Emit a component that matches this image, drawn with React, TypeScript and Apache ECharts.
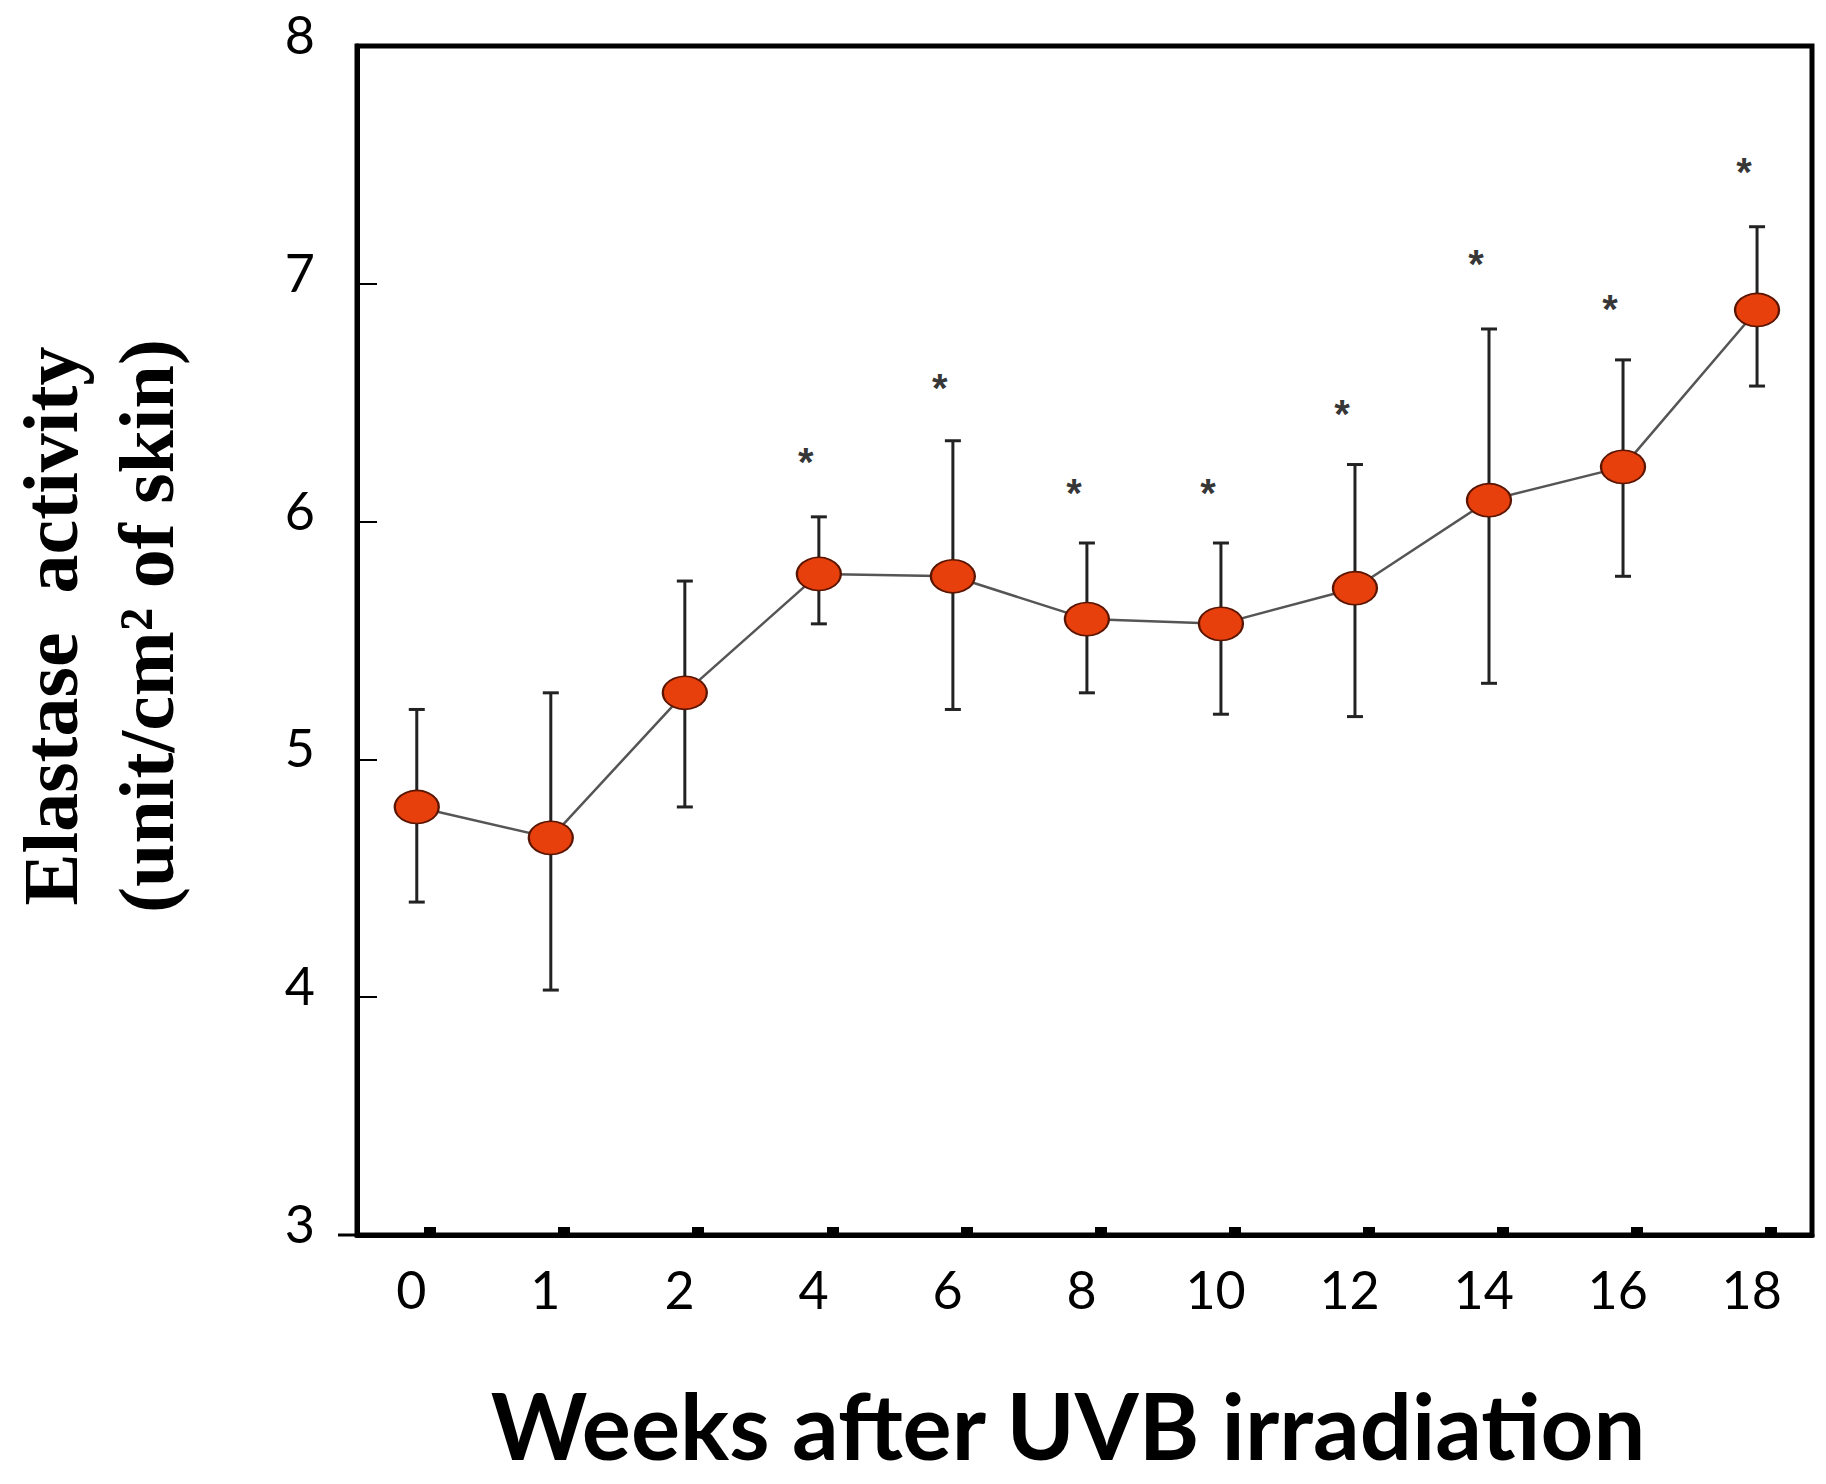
import React, { useEffect, useRef } from "react";
import * as echarts from "echarts";

// Weeks after UVB irradiation (category labels)
const weeks = ["0", "1", "2", "4", "6", "8", "10", "12", "14", "16", "18"];
// Elastase activity (mean) and error-bar ends
const means = [4.8, 4.67, 5.28, 5.78, 5.77, 5.59, 5.57, 5.72, 6.09, 6.23, 6.89];
const upper = [5.21, 5.28, 5.75, 6.02, 6.34, 5.91, 5.91, 6.24, 6.81, 6.68, 7.24];
const lower = [4.4, 4.03, 4.8, 5.57, 5.21, 5.28, 5.19, 5.18, 5.32, 5.77, 6.57];
// significance asterisk heights (null = none)
const stars: (number | null)[] = [null, null, null, 6.29, 6.6, 6.16, 6.16, 6.49, 7.12, 6.93, 7.51];
// y-axis tick values
const yTicks = [3, 4, 5, 6, 7, 8];

const idx = weeks.map((_, i) => i);

export default function App() {
  const ref = useRef<HTMLDivElement>(null);
  useEffect(() => {
    document.body.style.margin = "0";
    if (!ref.current) return;
    const chart = echarts.init(ref.current, undefined, { renderer: "svg" });
    const option: any = {
      animation: false,
      backgroundColor: "#ffffff",
      grid: {
        left: 357,
        right: 14,
        top: 46,
        bottom: 249,
        show: true,
        borderColor: "#000",
        borderWidth: 5,
        backgroundColor: "transparent",
      },
      xAxis: {
        type: "value",
        min: -0.446,
        max: 10.41,
        splitLine: { show: false },
        axisLine: { show: true, onZero: false, lineStyle: { color: "#000", width: 5 } },
        axisTick: {
          show: true,
          inside: true,
          length: 8,
          customValues: idx.map((i) => i + 0.1),
          lineStyle: { color: "#000", width: 12 },
        },
        axisLabel: {
          show: true,
          customValues: idx.map((i) => i - 0.04),
          formatter: (v: number) => weeks[Math.round(v)] ?? "",
          margin: 28,
          fontFamily: "Lato",
          fontSize: 52,
          color: "#000",
        },
      },
      yAxis: {
        type: "value",
        min: yTicks[0],
        max: yTicks[yTicks.length - 1],
        interval: 1,
        splitLine: { show: false },
        axisLine: { show: true, onZero: false, lineStyle: { color: "#000", width: 5 } },
        axisTick: { show: true, inside: true, length: 20, lineStyle: { color: "#000", width: 2 } },
        axisLabel: {
          margin: 42,
          fontFamily: "Lato",
          fontSize: 52,
          color: "#000",
          verticalAlign: "bottom",
          lineHeight: 24,
        },
      },
      graphic: [
        {
          type: "line",
          shape: { x1: 338, y1: 1235, x2: 357, y2: 1235 },
          style: { stroke: "#000", lineWidth: 3 },
        },
        {
          type: "text",
          x: 98,
          y: 626,
          rotation: Math.PI / 2,
          style: {
            text: "Elastase  activity\n(unit/cm\u00B2 of skin)",
            align: "center",
            verticalAlign: "middle",
            fontFamily: "Liberation Serif",
            fontWeight: "bold",
            fontSize: 78,
            lineHeight: 96,
            fill: "#000",
          },
        },
        {
          type: "text",
          x: 1068,
          y: 1424,
          style: {
            text: "Weeks after UVB irradiation",
            align: "center",
            verticalAlign: "middle",
            fontFamily: "Lato",
            fontWeight: "bold",
            fontSize: 92,
            fill: "#000",
          },
        },
      ],
      series: [
        {
          type: "custom",
          name: "error",
          z: 2,
          data: idx.map((i) => [i, lower[i], upper[i]]),
          renderItem: (params: any, api: any) => {
            const x = api.value(0);
            const lo = api.coord([x, api.value(1)]);
            const hi = api.coord([x, api.value(2)]);
            const hw = 8;
            const st = { stroke: "#222", lineWidth: 3 };
            return {
              type: "group",
              children: [
                { type: "line", shape: { x1: lo[0], y1: lo[1], x2: hi[0], y2: hi[1] }, style: st },
                { type: "line", shape: { x1: hi[0] - hw, y1: hi[1], x2: hi[0] + hw, y2: hi[1] }, style: st },
                { type: "line", shape: { x1: lo[0] - hw, y1: lo[1], x2: lo[0] + hw, y2: lo[1] }, style: st },
              ],
            };
          },
        },
        {
          type: "line",
          name: "mean",
          z: 3,
          data: idx.map((i) => [i, means[i]]),
          symbol: "circle",
          symbolSize: [44, 33],
          showAllSymbol: true,
          lineStyle: { color: "#555", width: 2.5 },
          itemStyle: { color: "#e8400c", borderColor: "#5a1500", borderWidth: 2 },
        },
        {
          type: "scatter",
          name: "stars",
          z: 4,
          data: idx.filter((i) => stars[i] != null).map((i) => [i, stars[i]]),
          symbolSize: 1,
          itemStyle: { color: "rgba(0,0,0,0)" },
          label: {
            show: true,
            position: "inside",
            formatter: "*",
            fontFamily: "Liberation Sans",
            fontWeight: "bold",
            fontSize: 40,
            color: "#000",
            offset: [-13, 9],
          },
        },
      ],
    };
    chart.setOption(option);
    return () => chart.dispose();
  }, []);
  return <div ref={ref} style={{ width: 1826, height: 1484 }} />;
}
